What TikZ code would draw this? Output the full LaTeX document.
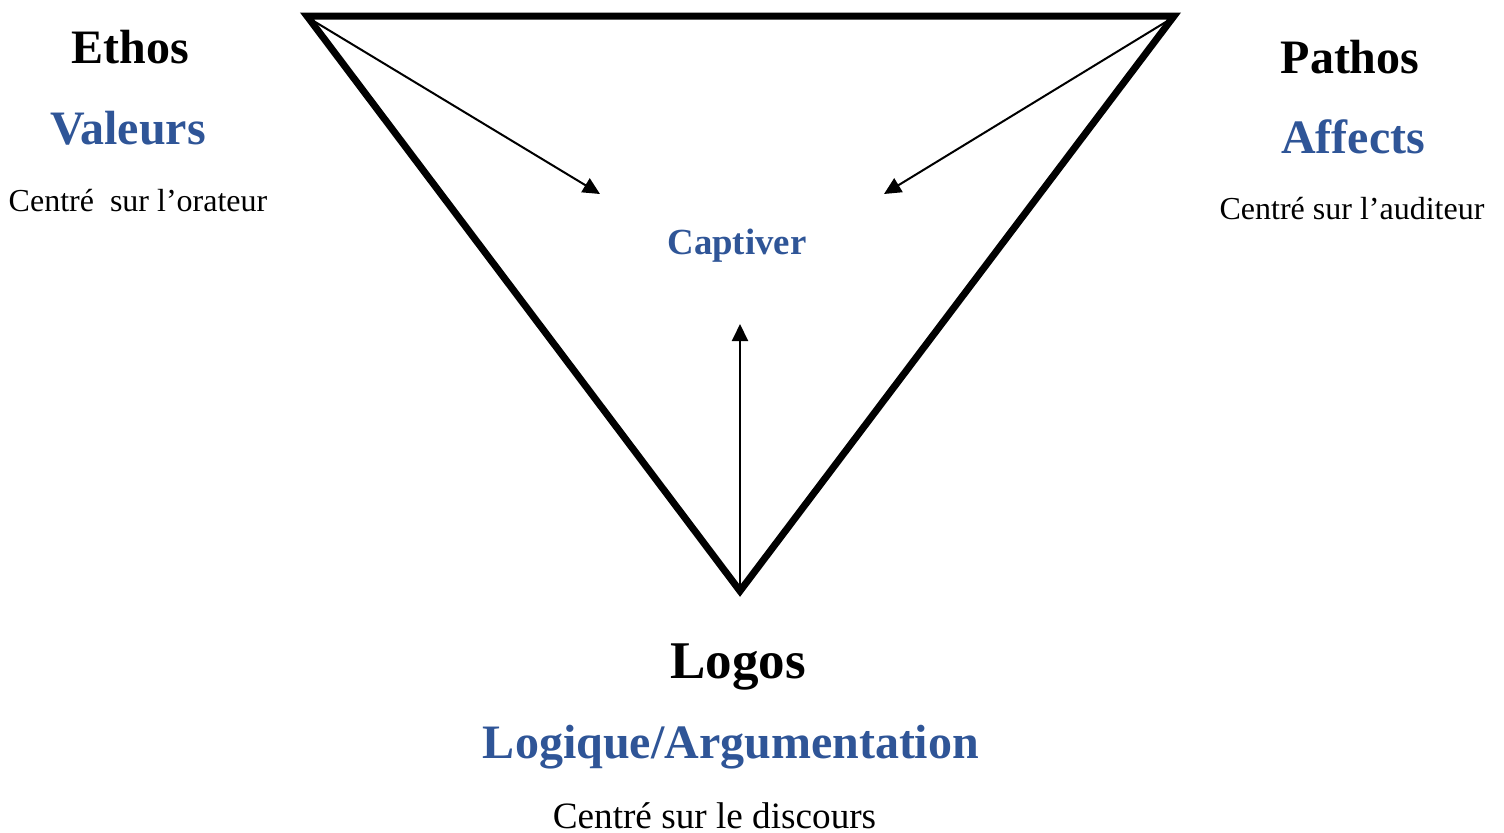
\documentclass[tikz,border=0pt]{standalone}
\usepackage{fontspec}
\setmainfont{Liberation Serif}
\usetikzlibrary{arrows.meta}
\definecolor{rblue}{RGB}{47,85,151}
\tikzset{
  tri/.style={line width=3.5pt, line join=miter, miter limit=10},
  pull/.style={line width=1pt, -{Triangle[length=8.5pt,width=8pt]}},
  head/.style={anchor=base, inner sep=0pt, font=\bfseries\fontsize{24}{28}\selectfont},
  sub/.style={anchor=base, inner sep=0pt, text=rblue, font=\bfseries\fontsize{24}{28}\selectfont},
  note/.style={anchor=base, inner sep=0pt, font=\fontsize{16}{19}\selectfont}
}
\begin{document}
\begin{tikzpicture}[x=0.5pt, y=-0.5pt]
\useasboundingbox (0,0) rectangle (1504,832);
\coordinate (tl) at (307,16);
\coordinate (tr) at (1174,16);
\coordinate (bt) at (740,591);
\draw[tri] (tl) -- (tr) -- (bt) -- cycle;

\node[head] (ethos) at (130,63) {Ethos};
\node[sub] (valeurs) at (128,144) {Valeurs};
\node[note] (orateur) at (138,211) {Centré\ \ sur l’orateur};

\node[head] (pathos) at (1350,73) {Pathos};
\node[sub] (affects) at (1353,153) {Affects};
\node[note] (auditeur) at (1352,219) {Centré sur l’auditeur};

\node[anchor=base, inner sep=0pt, text=rblue, font=\bfseries\fontsize{18.4}{22}\selectfont] (captiver) at (737,254) {Captiver};

\node[head, font=\bfseries\fontsize{26.5}{30}\selectfont] (logos) at (738,678) {Logos};
\node[sub] (logique) at (731,758) {Logique/Argumentation};
\node[note, font=\fontsize{18.6}{22}\selectfont] (discours) at (714.5,828) {Centré sur le discours};

\coordinate (ltip) at (600,194);
\coordinate (rtip) at (884,194);
\coordinate (btip) at (740,324);
\coordinate (ls) at (312,20);
\coordinate (rs) at (1169,20);
\draw[pull] (ls) -- (ltip);
\draw[pull] (rs) -- (rtip);
\draw[pull] (bt) -- (btip);
\end{tikzpicture}
\end{document}
